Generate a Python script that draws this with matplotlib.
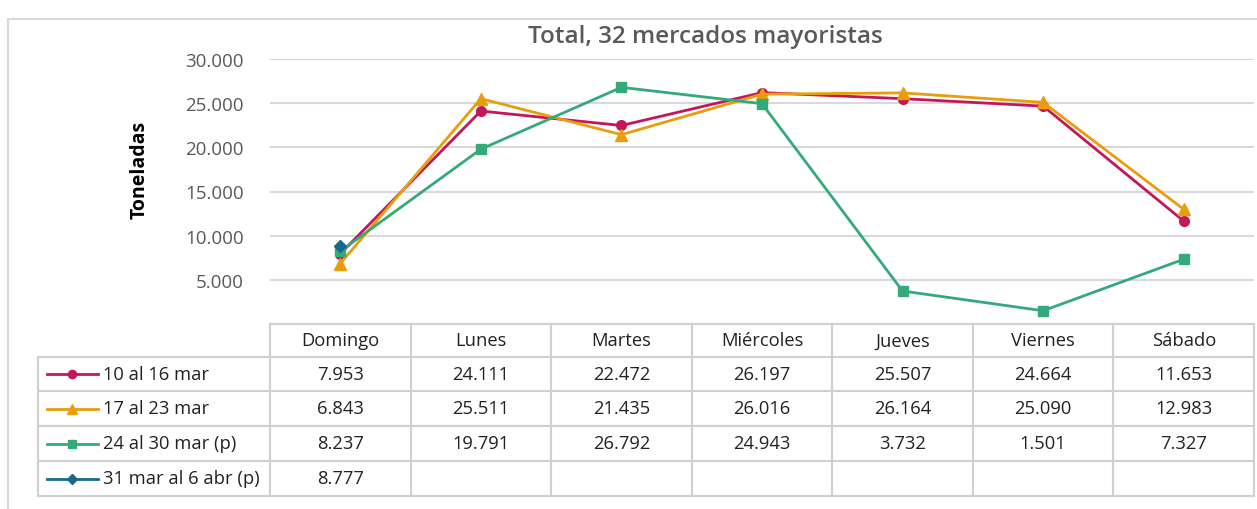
import numpy as np
import matplotlib.pyplot as plt

# data
days = ["Domingo", "Lunes", "Martes", "Miércoles", "Jueves", "Viernes", "Sábado"]
series_names = ["10 al 16 mar", "17 al 23 mar", "24 al 30 mar (p)", "31 mar al 6 abr (p)"]
s1 = [7953, 24111, 22472, 26197, 25507, 24664, 11653]
s2 = [6843, 25511, 21435, 26016, 26164, 25090, 12983]
s3 = [8237, 19791, 26792, 24943, 3732, 1501, 7327]
s4 = [8777, None, None, None, None, None, None]
yticks = [5000, 10000, 15000, 20000, 25000, 30000]

colors = ["#C2185B", "#E89E0C", "#34A97A", "#17698C"]
markers = ["o", "^", "s", "D"]
msizes = [7, 8, 6.5, 6.5]

W, H = 1257, 510
plt.rcParams["font.family"] = ["Open Sans", "DejaVu Sans"]
fig = plt.figure(figsize=(W / 100, H / 100), dpi=100)

def fx(px):
    return px / W

def fy(py):
    return 1 - py / H

# background axes in pixel coordinates for frame and table
bg = fig.add_axes([0, 0, 1, 1])
bg.set_xlim(0, W)
bg.set_ylim(H, 0)
bg.axis("off")

grid_c = "#D9D9D9"
bg.plot([8, 8], [20, H], color=grid_c, lw=1.5)
bg.plot([8, W], [20, 20], color=grid_c, lw=1.5)

# main plot
x0, x1, ytop, ybot = 270, 1254, 60, 325
ax = fig.add_axes([fx(x0), fy(ybot), fx(x1) - fx(x0), fy(ytop) - fy(ybot)])
ax.set_xlim(-0.5, len(days) - 0.5)
ax.set_ylim(0, 30000)
for s in ax.spines.values():
    s.set_visible(False)
ax.set_xticks([])
ax.set_yticks(yticks)
ax.set_yticklabels([f"{v:,}".replace(",", ".") for v in yticks], color="#595959", fontsize=13.5)
ax.tick_params(axis="y", length=0, pad=19)
ax.grid(axis="y", color=grid_c, lw=1.5)
ax.set_axisbelow(True)
ax.patch.set_alpha(0)

x = np.arange(len(days))
all_series = [s1, s2, s3, s4]
for vals, c, m, ms in zip(all_series, colors, markers, msizes):
    v = np.array([np.nan if a is None else a for a in vals], dtype=float)
    ax.plot(x, v, color=c, lw=2, marker=m, markersize=ms, zorder=3)

fig.text(fx(705), fy(37), "Total, 32 mercados mayoristas", color="#595959", fontsize=17.5,
         fontweight="semibold", ha="center", va="center")
fig.text(fx(140), fy(170), "Toneladas", rotation=90, ha="center", va="center",
         fontsize=14, fontweight="bold", color="#000000")

# data table
col_edges = np.linspace(x0, 1254, len(days) + 1)
row_edges = [325, 358, 392, 427, 462, 497]
lab_x0 = 38
tc = "#D0D0D0"
bg.plot([x0, col_edges[-1]], [row_edges[0]] * 2, color=tc, lw=1.5)
for r in row_edges[1:]:
    bg.plot([lab_x0, col_edges[-1]], [r, r], color=tc, lw=1.5)
bg.plot([lab_x0, lab_x0], [row_edges[1], row_edges[-1]], color=tc, lw=1.5)
for c in col_edges:
    bg.plot([c, c], [row_edges[0], row_edges[-1]], color=tc, lw=1.5)

fs = 13.2
for i, d in enumerate(days):
    cx = (col_edges[i] + col_edges[i + 1]) / 2
    bg.text(cx, (row_edges[0] + row_edges[1]) / 2, d, ha="center", va="center",
            fontsize=fs, color="#222222")

for j, (name, vals, c, m, ms) in enumerate(zip(series_names, all_series, colors, markers, msizes)):
    cy = (row_edges[j + 1] + row_edges[j + 2]) / 2
    bg.plot([47, 98], [cy, cy], color=c, lw=2)
    bg.plot([72], [cy], color=c, marker=m, markersize=ms * 0.85)
    bg.text(103, cy, name, ha="left", va="center", fontsize=fs, color="#222222")
    for i, v in enumerate(vals):
        if v is None:
            continue
        cx = (col_edges[i] + col_edges[i + 1]) / 2
        bg.text(cx, cy, f"{v:,}".replace(",", "."), ha="center", va="center",
                fontsize=fs, color="#222222")

fig.savefig("out.png", dpi=100)
